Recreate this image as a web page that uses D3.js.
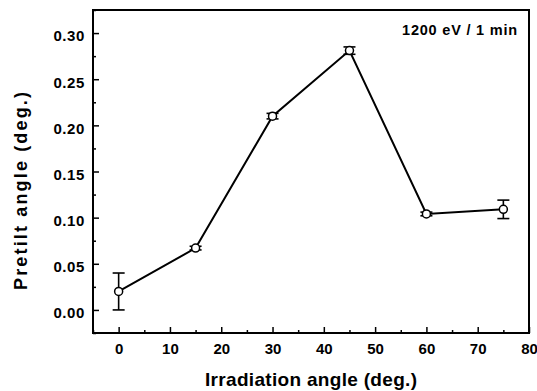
<!DOCTYPE html>
<html><head><meta charset="utf-8">
<script src="https://cdn.jsdelivr.net/npm/d3@7"></script>
<style>body{margin:0;background:#fff}svg{display:block}text{font-family:"Liberation Sans",Arial,sans-serif;font-weight:bold;fill:#000}</style>
</head><body>
<script>
const angles = [0, 15, 30, 45, 60, 75];
const pretilt = [0.020, 0.067, 0.210, 0.281, 0.104, 0.109];
const errors = [0.020, 0.002, 0.003, 0.004, 0.002, 0.010];
const xTicks = [0, 10, 20, 30, 40, 50, 60, 70, 80];
const yTicks = [0.00, 0.05, 0.10, 0.15, 0.20, 0.25, 0.30];
const annotation = "1200 eV / 1 min";

const W = 537, H = 391;
const m = {l: 93, r: 8, t: 10, b: 58};
const svg = d3.select("body").append("svg").attr("width", W).attr("height", H);
const x = d3.scaleLinear().domain([-5, 80]).range([m.l, W - m.r]);
const y = d3.scaleLinear().domain([-0.025, 0.325]).range([H - m.b, m.t]);

const xMinor = d3.range(-5, 80, 5).filter(v => v % 10 !== 0);
const yMinor = d3.range(-0.025, 0.326, 0.025).filter(v => Math.abs((v / 0.05) - Math.round(v / 0.05)) > 0.1);

const gx = svg.append("g").attr("transform", `translate(0,${H - m.b})`)
  .call(d3.axisBottom(x).tickValues(xTicks).tickFormat(d3.format("d")).tickSize(-6).tickPadding(10));
gx.select(".domain").remove();
gx.selectAll("line").attr("stroke-width", 1.5);
gx.selectAll("text").style("font-size", "15px").attr("dy", "0.72em");
svg.append("g").attr("transform", `translate(0,${H - m.b})`)
  .call(d3.axisBottom(x).tickValues(xMinor).tickFormat("").tickSize(-3))
  .call(g => g.select(".domain").remove()).selectAll("line").attr("stroke-width", 1.5);

const gy = svg.append("g").attr("transform", `translate(${m.l},0)`)
  .call(d3.axisLeft(y).tickValues(yTicks).tickFormat(d3.format(".2f")).tickSize(-6).tickPadding(8));
gy.select(".domain").remove();
gy.selectAll("line").attr("stroke-width", 1.5);
gy.selectAll("text").style("font-size", "15px").style("letter-spacing", "0.6px").attr("dy", "0.52em");
svg.append("g").attr("transform", `translate(${m.l},0)`)
  .call(d3.axisLeft(y).tickValues(yMinor).tickFormat("").tickSize(-3))
  .call(g => g.select(".domain").remove()).selectAll("line").attr("stroke-width", 1.5);

svg.append("rect").attr("x", m.l).attr("y", m.t)
  .attr("width", W - m.r - m.l).attr("height", H - m.b - m.t)
  .attr("fill", "none").attr("stroke", "#000").attr("stroke-width", 2);

const data = angles.map((a, i) => ({a, v: pretilt[i], e: errors[i]}));

svg.append("path").datum(data)
  .attr("d", d3.line().x(d => x(d.a)).y(d => y(d.v)))
  .attr("fill", "none").attr("stroke", "#000").attr("stroke-width", 2);

const eb = svg.append("g").attr("stroke", "#000").attr("stroke-width", 1.6);
data.forEach(d => {
  eb.append("line").attr("x1", x(d.a)).attr("x2", x(d.a)).attr("y1", y(d.v - d.e)).attr("y2", y(d.v + d.e));
  [d.v - d.e, d.v + d.e].forEach(v => eb.append("line")
    .attr("x1", x(d.a) - 6).attr("x2", x(d.a) + 6).attr("y1", y(v)).attr("y2", y(v)));
});

svg.append("g").selectAll("circle").data(data).join("circle")
  .attr("cx", d => x(d.a)).attr("cy", d => y(d.v)).attr("r", 4)
  .attr("fill", "#fff").attr("stroke", "#000").attr("stroke-width", 1.5);

svg.append("text").attr("x", 518).attr("y", 35).attr("text-anchor", "end")
  .style("font-size", "14.5px").style("letter-spacing", "0.8px").text(annotation);

svg.append("text").attr("x", (m.l + W - m.r) / 2).attr("y", 386).attr("text-anchor", "middle")
  .style("font-size", "19px").attr("textLength", 212).attr("lengthAdjust", "spacing")
  .text("Irradiation angle (deg.)");
svg.append("text").attr("transform", `translate(27,191) rotate(-90)`)
  .attr("text-anchor", "middle").style("font-size", "18px")
  .attr("textLength", 198).attr("lengthAdjust", "spacing").text("Pretilt angle (deg.)");
</script>
</body></html>
